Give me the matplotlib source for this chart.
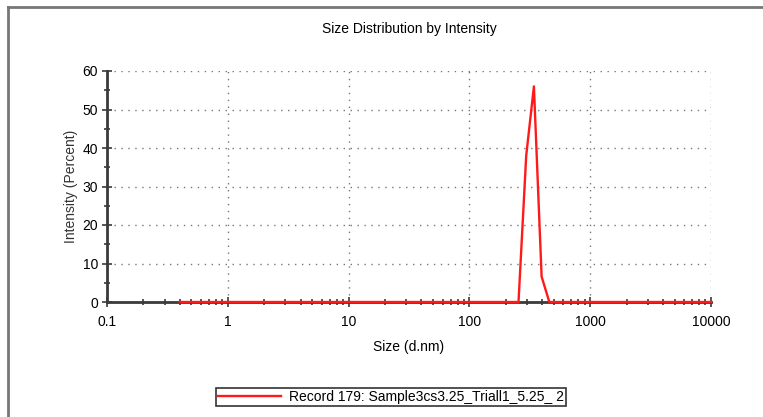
import numpy as np
import matplotlib.pyplot as plt
from matplotlib.lines import Line2D
from matplotlib.ticker import FixedLocator, LogLocator, NullFormatter, MultipleLocator

plt.rcParams['font.family'] = ['Liberation Sans', 'DejaVu Sans']

# Datos (tamaño en d.nm, intensidad en %)
size_nm = [0.4, 220.2, 255.0, 295.3, 342.0, 396.1, 458.7, 531.2, 10000]
intensity = [0, 0, 0, 38.0, 56.0, 6.6, 0, 0, 0]
x_ticks = [0.1, 1, 10, 100, 1000, 10000]
x_labels = ['0.1', '1', '10', '100', '1000', '10000']
y_ticks = [0, 10, 20, 30, 40, 50, 60]
label = 'Record 179: Sample3cs3.25_Triall1_5.25_ 2'

fig = plt.figure(figsize=(7.63, 4.17), dpi=100)
ax = fig.add_axes([107/763, 115/417, 604/763, 231/417])

ax.plot(size_nm, intensity, color='#ff1a1a', lw=1.7, label=label, zorder=5, clip_on=False)

ax.set_xscale('log')
ax.set_xlim(0.1, 10000)
ax.set_ylim(0, 60)
ax.xaxis.set_major_locator(FixedLocator(x_ticks))
ax.set_xticklabels(x_labels)
ax.xaxis.set_minor_locator(LogLocator(base=10, subs=np.arange(2, 10)))
ax.xaxis.set_minor_formatter(NullFormatter())
ax.set_yticks(y_ticks)
ax.yaxis.set_minor_locator(MultipleLocator(5))

for s in ['top', 'right']:
    ax.spines[s].set_visible(False)
for s in ['left', 'bottom']:
    ax.spines[s].set_color('#3a3a3a')
    ax.spines[s].set_linewidth(2)

ax.tick_params(which='major', direction='inout', length=7, width=1.2, color='#3a3a3a',
               labelsize=10, pad=3)
ax.tick_params(axis='x', which='major', pad=6)
ax.tick_params(which='minor', direction='inout', length=4, width=1.2, color='#3a3a3a')
ax.grid(True, which='major', linestyle=(0, (1, 4)), color='#777777', lw=1)

ax.set_title('Size Distribution by Intensity', fontsize=10, pad=27)
ax.set_xlabel('Size (d.nm)', fontsize=10, labelpad=8)
ax.set_ylabel('Intensity (Percent)', fontsize=10, color='#333333', labelpad=3)

# marco exterior
fig.add_artist(Line2D([8/763, 8/763], [0, 1 - 7/417], transform=fig.transFigure,
                      color='#777777', lw=2))
fig.add_artist(Line2D([8/763, 1], [1 - 7/417, 1 - 7/417], transform=fig.transFigure,
                      color='#777777', lw=2))

leg = fig.legend(loc='center', bbox_to_anchor=(391/763, 1 - 397/417), fontsize=10,
                 frameon=True, fancybox=False, handlelength=4.5, handletextpad=0.6,
                 borderpad=0.15, borderaxespad=0)
leg.get_frame().set_edgecolor('black')
leg.get_frame().set_linewidth(1.2)

fig.savefig('out.png', dpi=100)
